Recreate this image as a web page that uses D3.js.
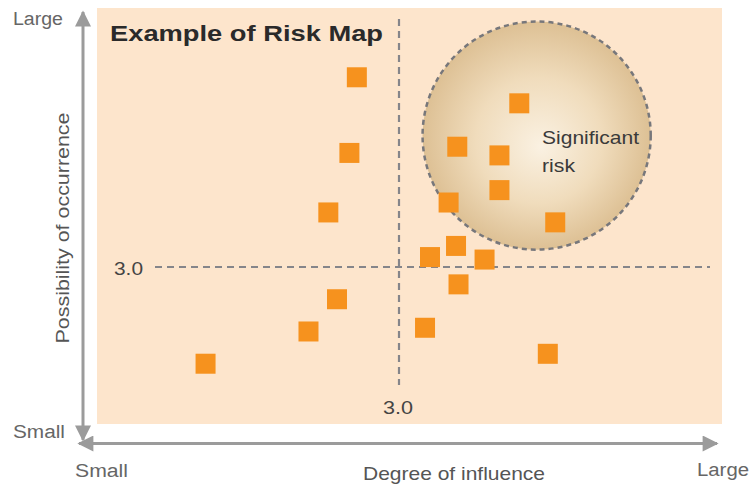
<!DOCTYPE html>
<html>
<head>
<meta charset="utf-8">
<script src="https://cdn.jsdelivr.net/npm/d3@7"></script>
<style>
  html, body { margin: 0; padding: 0; background: #fff; }
  svg { display: block; }
  text { font-family: "Liberation Sans", Arial, sans-serif; }
</style>
</head>
<body>
<svg id="chart" width="751" height="489"></svg>
<script>
// ---- data (value units: 1 = small, 5 = large) ----
const riskNames   = ["R1","R2","R3","R4","R5","R6","R7","R8","R9","R10","R11","R12","R13","R14","R15","R16","R17","R18"];
const influence   = [2.66, 3.97, 2.60, 3.47, 3.81, 3.81, 3.40, 2.43, 4.26, 3.46, 3.25, 3.69, 3.48, 2.50, 2.27, 3.21, 4.20, 1.44];
const possibility = [4.53, 4.32, 3.92, 3.97, 3.90, 3.62, 3.52, 3.44, 3.36, 3.17, 3.08, 3.06, 2.86, 2.74, 2.48, 2.51, 2.30, 2.22];
const threshold   = [3.0];                    // both axes
const thresholdLabels = ["3.0"];
const zoneCenter  = [4.11, 4.06];             // significant-risk zone (influence, possibility)
const zoneRadius  = [0.92];                   // in value units
const zoneLabel   = ["Significant", "risk"];
const titleText   = ["Example of Risk Map"];
const axisTitles  = ["Degree of influence", "Possibility of occurrence"];
const endLabels   = ["Small", "Large"];

// ---- layout ----
const svg = d3.select("#chart");
const x = d3.scaleLinear().domain([1, 5]).range([151, 647]);
const y = d3.scaleLinear().domain([1, 5]).range([515, 19]);
const unit = x(2) - x(1);

const defs = svg.append("defs");
const grad = defs.append("radialGradient").attr("id", "zoneGrad")
  .attr("cx", "50%").attr("cy", "50%").attr("r", "50%")
  .attr("fx", "52%").attr("fy", "55%");
grad.append("stop").attr("offset", "0%").attr("stop-color", "#faf1e2");
grad.append("stop").attr("offset", "55%").attr("stop-color", "#f0dcbc");
grad.append("stop").attr("offset", "100%").attr("stop-color", "#ddc094");

const arrowColor = "#9b9b9b";
defs.append("marker").attr("id", "arrowEnd")
  .attr("viewBox", "0 0 10 10").attr("refX", 9).attr("refY", 5)
  .attr("markerUnits", "userSpaceOnUse")
  .attr("markerWidth", 18).attr("markerHeight", 16)
  .attr("orient", "auto-start-reverse")
  .append("path").attr("d", "M0,0 L10,5 L0,10 Z").attr("fill", arrowColor);

// plot background
svg.append("rect")
  .attr("x", 97).attr("y", 8).attr("width", 625).attr("height", 416)
  .attr("fill", "#fde5cc");

// significant risk zone
svg.append("circle")
  .attr("cx", x(zoneCenter[0])).attr("cy", y(zoneCenter[1]))
  .attr("r", zoneRadius[0] * unit)
  .attr("fill", "url(#zoneGrad)")
  .attr("stroke", "#77777b").attr("stroke-width", 2.5)
  .attr("stroke-dasharray", "5,4");

// threshold dashed lines
svg.append("line")
  .attr("x1", 155).attr("x2", 710)
  .attr("y1", y(threshold[0])).attr("y2", y(threshold[0]))
  .attr("stroke", "#85858a").attr("stroke-width", 2.2).attr("stroke-dasharray", "7,5");
svg.append("line")
  .attr("x1", x(threshold[0])).attr("x2", x(threshold[0]))
  .attr("y1", 19).attr("y2", 385)
  .attr("stroke", "#85858a").attr("stroke-width", 2.2).attr("stroke-dasharray", "7,5");

// squares
const sq = 20;
svg.append("g").selectAll("rect").data(riskNames).join("rect")
  .attr("x", (d, i) => x(influence[i]) - sq / 2)
  .attr("y", (d, i) => y(possibility[i]) - sq / 2)
  .attr("width", sq).attr("height", sq)
  .attr("fill", "#f6921e");

// axes arrows
svg.append("line")
  .attr("x1", 83).attr("x2", 83).attr("y1", 12).attr("y2", 440)
  .attr("stroke", arrowColor).attr("stroke-width", 3)
  .attr("marker-start", "url(#arrowEnd)").attr("marker-end", "url(#arrowEnd)");
svg.append("line")
  .attr("x1", 79).attr("x2", 717).attr("y1", 443.5).attr("y2", 443.5)
  .attr("stroke", arrowColor).attr("stroke-width", 3)
  .attr("marker-start", "url(#arrowEnd)").attr("marker-end", "url(#arrowEnd)");

// texts
function label(t, px, py, size, w, color, weight) {
  return svg.append("text").text(t)
    .attr("x", px).attr("y", py)
    .attr("font-size", size)
    .attr("font-weight", weight || "normal")
    .attr("fill", color)
    .attr("textLength", w).attr("lengthAdjust", "spacingAndGlyphs");
}
label(titleText[0], 110, 41, 22, 273, "#2a2a2a", "bold");
label(zoneLabel[0], 542, 144, 19, 97, "#3a3a3a");
label(zoneLabel[1], 542, 172, 19, 33, "#3a3a3a");

label(endLabels[1], 13, 25, 18, 50, "#666");
label(endLabels[0], 13, 438, 18, 52, "#666");
label(endLabels[0], 75, 477, 18, 53, "#666");
label(endLabels[1], 697, 476, 18, 52, "#666");
label(axisTitles[0], 363, 480, 19, 182, "#555");

svg.append("text").text(axisTitles[1])
  .attr("transform", "translate(69,228) rotate(-90)")
  .attr("text-anchor", "middle")
  .attr("font-size", 19).attr("fill", "#555")
  .attr("textLength", 231).attr("lengthAdjust", "spacingAndGlyphs");

label(thresholdLabels[0], 114, 275, 18, 29, "#444");
label(thresholdLabels[0], 383, 414, 18, 30, "#444");
</script>
</body>
</html>
